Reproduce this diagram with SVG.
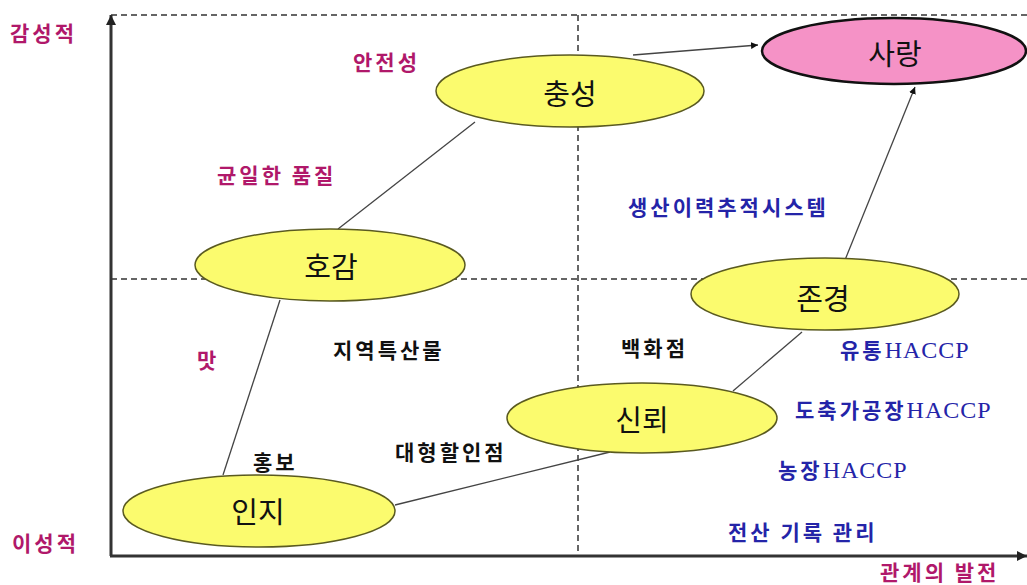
<svg xmlns="http://www.w3.org/2000/svg" width="1027" height="585" viewBox="0 0 1027 585">
<defs>
<marker id="arr" viewBox="0 0 10 10" refX="10" refY="5" markerWidth="7" markerHeight="7" markerUnits="userSpaceOnUse" orient="auto"><path d="M0,0 L10,5 L0,10 z" fill="#111"/></marker>
<marker id="axarr" viewBox="0 0 10 10" refX="10" refY="5" markerWidth="10" markerHeight="10" markerUnits="userSpaceOnUse" orient="auto"><path d="M0,0 L10,5 L0,10 z" fill="#222"/></marker>
<style>
.dash{stroke:#333;stroke-width:1.5;stroke-dasharray:6 4;fill:none}
.axis{stroke:#333;stroke-width:3;fill:none}
.link{stroke:#444;stroke-width:1.3;fill:none}
.node{fill:#fbfb6e;stroke:#5a5a20;stroke-width:1.5}
.love{fill:#f592c6;stroke:#111;stroke-width:2.5}
.nl{font-family:"Noto Sans CJK KR","Noto Sans",sans-serif;font-size:29px;fill:#111;text-anchor:middle}
.lb{font-family:"Noto Sans CJK KR","Noto Sans",sans-serif;font-size:21px;font-weight:700;letter-spacing:3px}
.mg{fill:#b0186a}
.bk{fill:#111}
.bl{fill:#2424a8}
.ser{font-family:"Liberation Serif",serif;font-size:24px;font-weight:400;letter-spacing:1px}
</style>
</defs>
<g id="axes">
<line class="dash" x1="111" y1="15" x2="1027" y2="15"/>
<line class="dash" x1="111" y1="279" x2="1027" y2="279"/>
<line class="dash" x1="578" y1="15" x2="578" y2="555"/>
<line class="axis" x1="111" y1="556" x2="111" y2="15" marker-end="url(#axarr)"/>
<line class="axis" x1="110" y1="556" x2="1027" y2="556" marker-end="url(#axarr)"/>
</g>
<g id="connectors">
<line class="link" x1="223" y1="475" x2="280" y2="300"/>
<line class="link" x1="338" y1="229" x2="475" y2="122"/>
<line class="link" x1="395" y1="505" x2="610" y2="452"/>
<line class="link" x1="733" y1="391" x2="802" y2="332"/>
<line class="link" x1="633" y1="55" x2="758" y2="45" marker-end="url(#arr)"/>
<line class="link" x1="845" y1="260" x2="915" y2="87" marker-end="url(#arr)"/>
</g>
<g id="node-chungseong"><ellipse class="node" cx="570" cy="91" rx="134" ry="36"/><text class="nl" x="570" y="105">충성</text></g>
<g id="node-sarang"><ellipse class="love" cx="894" cy="51" rx="132" ry="33"/><text class="nl" x="895" y="65">사랑</text></g>
<g id="node-hogam"><ellipse class="node" cx="330" cy="265" rx="135" ry="36"/><text class="nl" x="331" y="278">호감</text></g>
<g id="node-jongyeong"><ellipse class="node" cx="825" cy="294" rx="134" ry="36"/><text class="nl" x="823" y="310">존경</text></g>
<g id="node-sinroe"><ellipse class="node" cx="642" cy="418" rx="135" ry="35"/><text class="nl" x="642" y="431">신뢰</text></g>
<g id="node-inji"><ellipse class="node" cx="259" cy="511" rx="136" ry="36"/><text class="nl" x="258" y="523">인지</text></g>
<g id="labels">
<text class="lb mg" x="10" y="41">감성적</text>
<text class="lb mg" x="12" y="551">이성적</text>
<text class="lb mg" x="353" y="70">안전성</text>
<text class="lb mg" x="217" y="183">균일한 품질</text>
<text class="lb mg" x="197" y="368">맛</text>
<text class="lb bk" x="333" y="358">지역특산물</text>
<text class="lb bk" x="253" y="470">홍보</text>
<text class="lb bk" x="395" y="460">대형할인점</text>
<text class="lb bk" x="621" y="356">백화점</text>
<text class="lb bl" x="628" y="215">생산이력추적시스템</text>
<text class="lb bl" x="840" y="358">유통<tspan class="ser">HACCP</tspan></text>
<text class="lb bl" x="795" y="418">도축가공장<tspan class="ser">HACCP</tspan></text>
<text class="lb bl" x="778" y="478">농장<tspan class="ser">HACCP</tspan></text>
<text class="lb bl" x="728" y="540">전산 기록 관리</text>
<text class="lb mg" x="880" y="580">관계의 발전</text>
</g>
</svg>
